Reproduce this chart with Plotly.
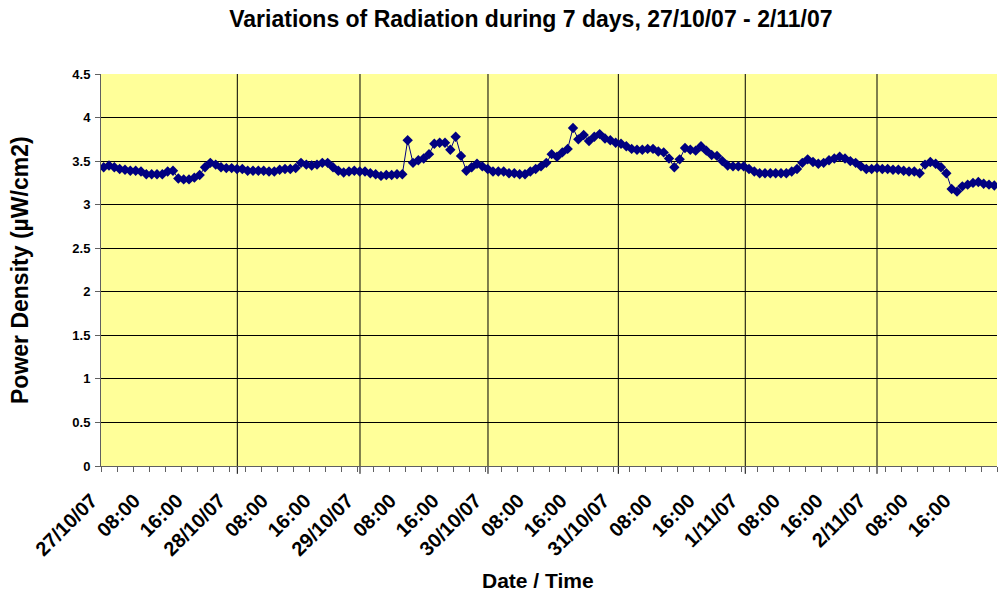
import plotly.graph_objects as go

# ---- data (hourly readings, 27/10/07 00:00 -> 2/11/07 23:00) ----
power_density = [
    3.43, 3.45, 3.43, 3.41, 3.40, 3.39, 3.39, 3.38, 3.35, 3.35,
    3.35, 3.35, 3.38, 3.39, 3.30, 3.29, 3.29, 3.31, 3.34, 3.43,
    3.48, 3.46, 3.43, 3.42, 3.42, 3.41, 3.41, 3.39, 3.39, 3.39,
    3.39, 3.38, 3.38, 3.40, 3.41, 3.41, 3.42, 3.48, 3.46, 3.45,
    3.46, 3.48, 3.48, 3.43, 3.39, 3.37, 3.38, 3.39, 3.38, 3.38,
    3.36, 3.35, 3.33, 3.34, 3.34, 3.35, 3.35, 3.74, 3.48, 3.51,
    3.53, 3.58, 3.70, 3.71, 3.71, 3.63, 3.78, 3.56, 3.39, 3.43,
    3.47, 3.44, 3.41, 3.38, 3.38, 3.38, 3.36, 3.36, 3.35, 3.35,
    3.38, 3.41, 3.44, 3.48, 3.58, 3.55, 3.60, 3.64, 3.88, 3.75,
    3.80, 3.73, 3.78, 3.81, 3.76, 3.74, 3.71, 3.70, 3.67, 3.64,
    3.63, 3.63, 3.64, 3.64, 3.61, 3.60, 3.53, 3.43, 3.52, 3.65,
    3.63, 3.62, 3.67, 3.62, 3.57, 3.56, 3.50, 3.45, 3.44, 3.44,
    3.44, 3.41, 3.38, 3.36, 3.36, 3.36, 3.36, 3.36, 3.36, 3.38,
    3.41, 3.48, 3.52, 3.49, 3.47, 3.48, 3.51, 3.53, 3.55, 3.53,
    3.50, 3.48, 3.44, 3.41, 3.41, 3.42, 3.41, 3.41, 3.40, 3.40,
    3.39, 3.38, 3.38, 3.36, 3.46, 3.49, 3.47, 3.43, 3.36, 3.18,
    3.15, 3.21, 3.23, 3.25, 3.26, 3.24, 3.23, 3.22,
]
hours = list(range(len(power_density)))

label_positions = [0, 8, 16, 24, 32, 40, 48, 56, 64, 72, 80, 88, 96,
                   104, 112, 120, 128, 136, 144, 152, 160]
tick_labels = ["27/10/07", "08:00", "16:00", "28/10/07", "08:00", "16:00",
               "29/10/07", "08:00", "16:00", "30/10/07", "08:00", "16:00",
               "31/10/07", "08:00", "16:00", "1/11/07", "08:00", "16:00",
               "2/11/07", "08:00", "16:00"]
y_tick_values = [0, 0.5, 1, 1.5, 2, 2.5, 3, 3.5, 4, 4.5]
y_tick_labels = ["0", "0.5", "1", "1.5", "2", "2.5", "3", "3.5", "4", "4.5"]
day_lines = [25.06, 48.06, 72.06, 96.5, 120.3, 145.0]

FONT = "Liberation Sans, Arial, sans-serif"

fig = go.Figure()
fig.add_trace(go.Scatter(
    x=hours, y=power_density, mode="lines+markers",
    line=dict(color="#000080", width=1),
    marker=dict(symbol="diamond", size=8, color="#000080"),
    showlegend=False,
))

shapes = []
for d in day_lines:
    shapes.append(dict(type="line", xref="x", yref="paper", x0=d, x1=d,
                       y0=-0.02, y1=1, line=dict(color="#000000", width=1),
                       layer="below"))

fig.update_layout(
    width=998, height=592,
    margin=dict(l=101, r=1, t=74, b=126),
    paper_bgcolor="#ffffff",
    plot_bgcolor="#FFFF99",
    font=dict(family=FONT, color="#000000"),
    title=dict(text="<b>Variations of Radiation during 7 days, 27/10/07 - 2/11/07</b>",
               x=0.532, xanchor="center", y=0.968, yanchor="middle",
               yref="container", font=dict(size=23, family=FONT)),
    shapes=shapes,
    annotations=[
        dict(text="<b>Power Density (µW/cm2)</b>", textangle=-90,
             xref="paper", yref="paper", x=(20 - 101) / 896, y=(466 - 270) / 392,
             xanchor="center", yanchor="middle", showarrow=False,
             font=dict(size=23, family=FONT)),
        dict(text="<b>Date / Time</b>",
             xref="paper", yref="paper", x=(538 - 101) / 896, y=(466 - 580) / 392,
             xanchor="center", yanchor="middle", showarrow=False,
             font=dict(size=21, family=FONT)),
    ],
)

fig.update_xaxes(
    range=[-0.5, 167.5], automargin=False,
    tickmode="array", tickvals=label_positions,
    ticktext=["<b>%s</b>" % t for t in tick_labels],
    tickangle=-45, ticks="outside", ticklen=0,
    tickfont=dict(size=20, family=FONT),
    ticklabelshift=-12, ticklabelstandoff=14,
    showgrid=False, zeroline=False,
    showline=True, linecolor="#606060", linewidth=1,
    minor=dict(tickmode="linear", tick0=-0.5, dtick=3, ticks="outside",
               ticklen=5, tickcolor="#606060", showgrid=False),
)
fig.update_yaxes(
    range=[0, 4.5], automargin=False,
    tickmode="array", tickvals=y_tick_values,
    ticktext=["<b>%s</b>" % t for t in y_tick_labels],
    ticks="outside", ticklen=5, tickcolor="#606060",
    tickfont=dict(size=13, family=FONT),
    showgrid=True, gridcolor="#000000", gridwidth=1,
    zeroline=False, showline=True, linecolor="#606060", linewidth=1,
    ticklabelstandoff=2,
)

fig.write_html("out.html", config={"displayModeBar": False},
               post_script="document.body.style.margin='0';")
